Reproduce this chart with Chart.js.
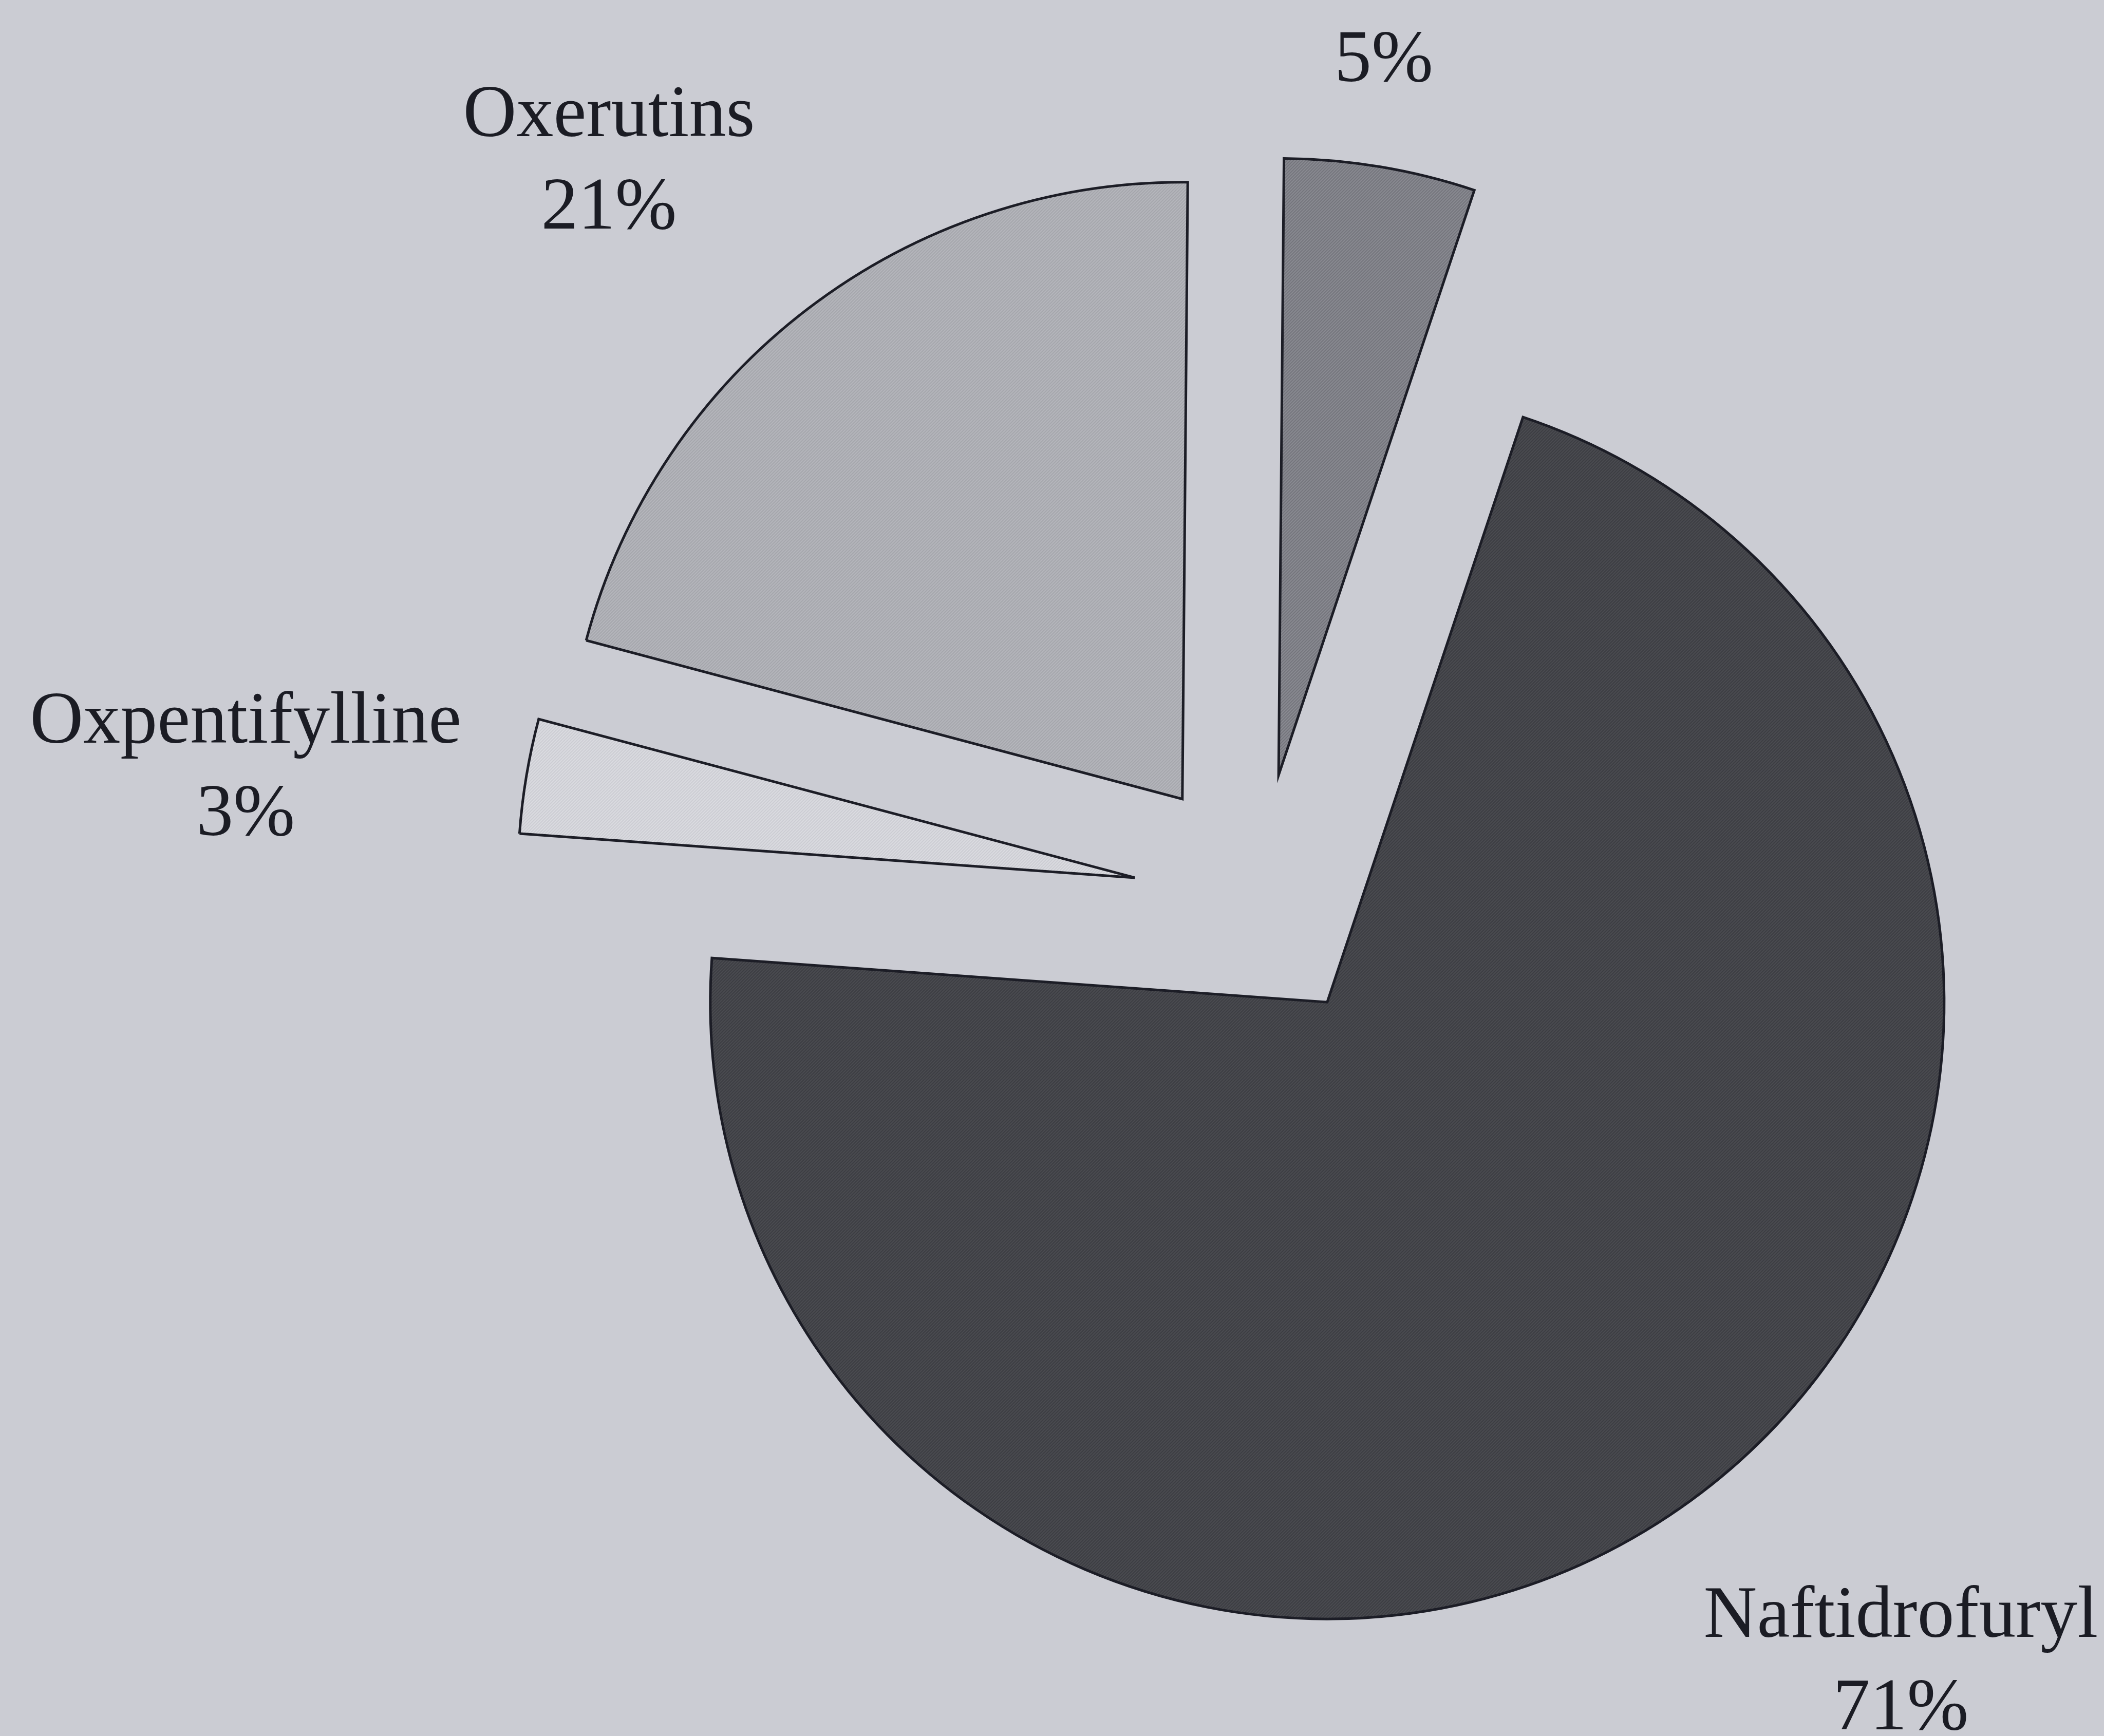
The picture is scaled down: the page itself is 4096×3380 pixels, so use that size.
<!DOCTYPE html>
<html>
<head>
<meta charset="utf-8">
<title>Naftidrofuryl, Oxerutins, Oxpentifylline</title>
<script src="https://cdn.jsdelivr.net/npm/chart.js@4.4.1/dist/chart.umd.min.js"></script>
<style>
  html, body { margin: 0; padding: 0; background: #cbccd3; }
  #wrap { width: 4096px; height: 3380px; }
</style>
</head>
<body>
<div id="wrap"><canvas id="pie" width="4096" height="3380"></canvas></div>
<script>
// slices, clockwise from 12 o'clock
const categories = ['', 'Naftidrofuryl', 'Oxpentifylline', 'Oxerutins'];
const shares = [5, 71, 3, 21];
const percentLabels = shares.map(v => v + '%');

// how far every slice is pulled out of the pie (px)
const EXPLODE = 243;

// label blocks, placed around the pie centre in multiples of the radius
const labelSpots = [[0.204, -1.40], [1.042, 1.272], [-1.641, -0.177], [-1.052, -1.161]];

/**
 * small diagonal hatch used as slice fill
 */
function hatch(base, stroke, size) {
  const c = document.createElement('canvas');
  c.width = c.height = size;
  const g = c.getContext('2d');
  g.fillStyle = base;
  g.fillRect(0, 0, size, size);
  g.strokeStyle = stroke;
  g.lineWidth = size / 3;
  g.beginPath();
  g.moveTo(-size, size * 2); g.lineTo(size * 2, -size);
  g.moveTo(-size, size); g.lineTo(size, -size);
  g.moveTo(0, size * 2); g.lineTo(size * 2, 0);
  g.stroke();
  return g.createPattern(c, 'repeat');
}

const fills = [
  hatch('#8c8d94', '#73747b', 6),
  hatch('#4c4d52', '#3c3d42', 6),
  hatch('#dcdde2', '#cbccd2', 6),
  hatch('#b7b8be', '#a4a5ab', 6),
];

// every arc is drawn shifted outwards along its own mid angle
const explodePlugin = {
  id: 'explode',
  beforeDatasetDraw(chart, args) {
    const ctx = chart.ctx;
    args.meta.data.forEach((arc) => {
      const mid = (arc.startAngle + arc.endAngle) / 2;
      ctx.save();
      ctx.translate(Math.cos(mid) * EXPLODE, Math.sin(mid) * EXPLODE);
      arc.draw(ctx);
      ctx.restore();
    });
    return false;
  }
};

// name + percentage under it
const labelPlugin = {
  id: 'sliceLabels',
  afterDraw(chart) {
    const ctx = chart.ctx;
    const arcs = chart.getDatasetMeta(0).data;
    ctx.save();
    ctx.fillStyle = '#1b1c24';
    ctx.font = '144px "Liberation Serif", "Times New Roman", serif';
    ctx.textAlign = 'center';
    ctx.textBaseline = 'alphabetic';
    arcs.forEach((arc, i) => {
      const r = arc.outerRadius;
      const x = arc.x + labelSpots[i][0] * r;
      const y = arc.y + labelSpots[i][1] * r;
      if (categories[i]) ctx.fillText(categories[i], x, y - 90);
      ctx.fillText(percentLabels[i], x, y + 90);
    });
    ctx.restore();
  }
};

const ctx = document.getElementById('pie').getContext('2d');
new Chart(ctx, {
  type: 'pie',
  data: {
    labels: categories,
    datasets: [{
      data: shares,
      backgroundColor: fills,
      borderColor: '#1c1d26',
      borderWidth: 5,
      borderJoinStyle: 'miter',
    }],
  },
  options: {
    responsive: false,
    animation: false,
    devicePixelRatio: 1,
    rotation: 0.5,
    radius: 1201,
    layout: { padding: { left: 802, right: 0, top: 118, bottom: 0 } },
    plugins: {
      legend: { display: false },
      tooltip: { enabled: false },
    },
  },
  plugins: [explodePlugin, labelPlugin],
});
</script>
</body>
</html>
